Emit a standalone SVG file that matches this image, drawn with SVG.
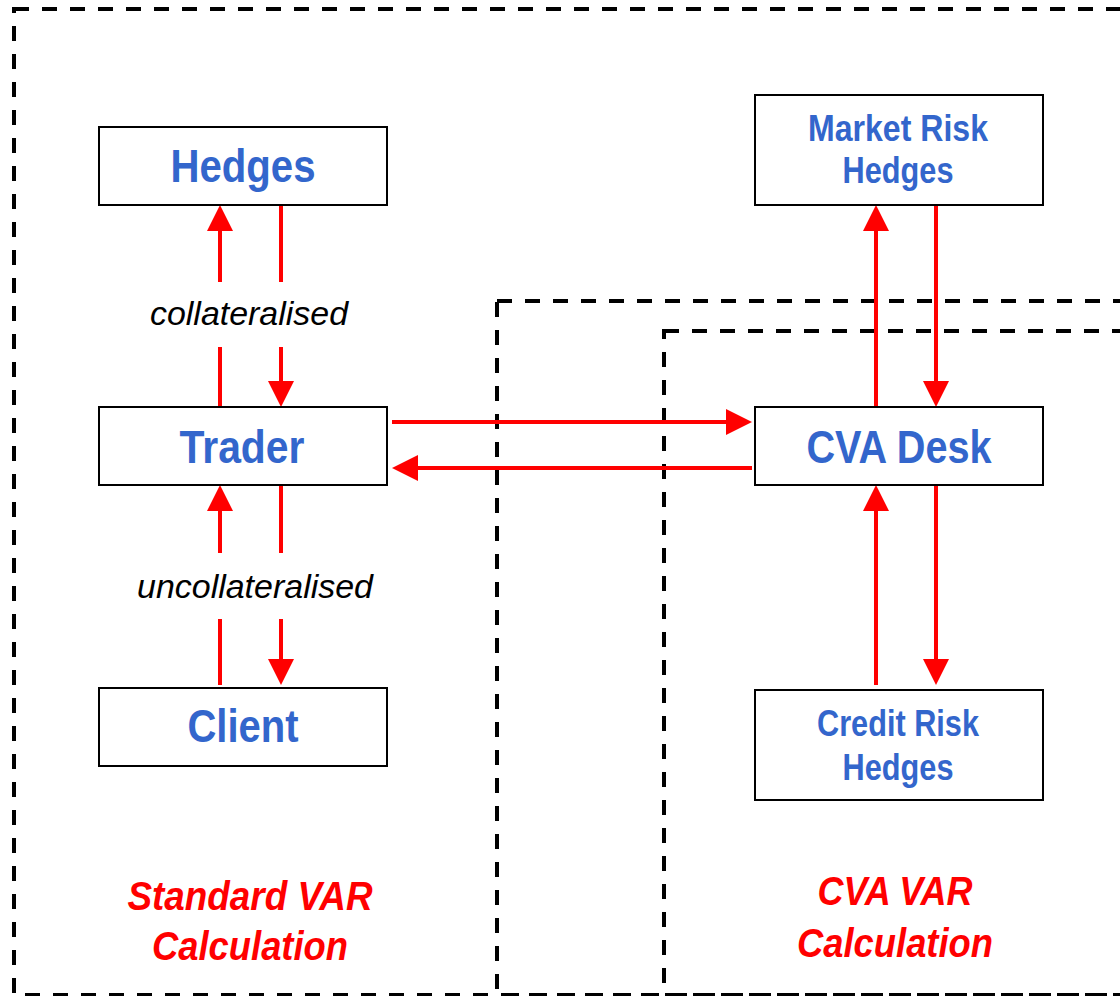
<svg xmlns="http://www.w3.org/2000/svg" width="1120" height="996" viewBox="0 0 1120 996">
<style>
.region{fill:none;stroke:#000;stroke-width:4;stroke-dasharray:15 13}
.box{fill:#fff;stroke:#000;stroke-width:2}
.nl{font-family:"Liberation Sans",Arial,sans-serif;font-weight:bold;fill:#3366CC;text-anchor:middle}
.big{font-size:46px}
.small{font-size:37px}
.lab{font-family:"Liberation Sans",Arial,sans-serif;font-style:italic;font-size:33px;fill:#000;text-anchor:middle}
.reg{font-family:"Liberation Sans",Arial,sans-serif;font-style:italic;font-weight:bold;font-size:40px;fill:#FF0000;text-anchor:middle}
.c{stroke:#FF0000;stroke-width:4;fill:none}
</style>
<defs>
<marker id="ah" markerUnits="userSpaceOnUse" markerWidth="26" markerHeight="26" refX="6" refY="13" orient="auto" viewBox="0 0 26 26">
<path d="M0,0 L26,13 L0,26 z" fill="#FF0000"/>
</marker>
</defs>
<rect width="1120" height="996" fill="#fff"/>
<g id="regions">
<rect class="region" x="14" y="9" width="1200" height="986"/>
<rect class="region" x="497" y="301" width="700" height="694"/>
<rect class="region" x="664" y="331" width="600" height="664"/>
<text class="reg" x="250" y="910" textLength="245" lengthAdjust="spacingAndGlyphs">Standard VAR</text>
<text class="reg" x="250" y="960" textLength="196" lengthAdjust="spacingAndGlyphs">Calculation</text>
<text class="reg" x="895" y="905" textLength="155" lengthAdjust="spacingAndGlyphs">CVA VAR</text>
<text class="reg" x="895" y="957" textLength="196" lengthAdjust="spacingAndGlyphs">Calculation</text>
</g>
<g id="connectors">
<line class="c" x1="220" y1="282" x2="220" y2="225" marker-end="url(#ah)"/>
<line class="c" x1="281" y1="205" x2="281" y2="282"/>
<line class="c" x1="220" y1="347" x2="220" y2="407"/>
<line class="c" x1="281" y1="347" x2="281" y2="387" marker-end="url(#ah)"/>
<line class="c" x1="220" y1="553" x2="220" y2="505" marker-end="url(#ah)"/>
<line class="c" x1="281" y1="485" x2="281" y2="553"/>
<line class="c" x1="220" y1="619" x2="220" y2="685"/>
<line class="c" x1="281" y1="619" x2="281" y2="665" marker-end="url(#ah)"/>
<line class="c" x1="392" y1="422" x2="732" y2="422" marker-end="url(#ah)"/>
<line class="c" x1="752" y1="468" x2="412" y2="468" marker-end="url(#ah)"/>
<line class="c" x1="876" y1="407" x2="876" y2="225" marker-end="url(#ah)"/>
<line class="c" x1="936" y1="205" x2="936" y2="387" marker-end="url(#ah)"/>
<line class="c" x1="876" y1="685" x2="876" y2="505" marker-end="url(#ah)"/>
<line class="c" x1="936" y1="485" x2="936" y2="665" marker-end="url(#ah)"/>
<text class="lab" x="249" y="325" textLength="198" lengthAdjust="spacingAndGlyphs">collateralised</text>
<text class="lab" x="255" y="598" textLength="236" lengthAdjust="spacingAndGlyphs">uncollateralised</text>
</g>
<g id="hedges">
<rect class="box" x="99" y="127" width="288" height="78"/>
<text class="nl big" x="243" y="182" textLength="145" lengthAdjust="spacingAndGlyphs">Hedges</text>
</g>
<g id="trader">
<rect class="box" x="99" y="407" width="288" height="78"/>
<text class="nl big" x="242" y="463" textLength="125" lengthAdjust="spacingAndGlyphs">Trader</text>
</g>
<g id="client">
<rect class="box" x="99" y="688" width="288" height="78"/>
<text class="nl big" x="243" y="742" textLength="111" lengthAdjust="spacingAndGlyphs">Client</text>
</g>
<g id="market-risk-hedges">
<rect class="box" x="755" y="95" width="288" height="110"/>
<text class="nl small" x="898" y="141" textLength="180" lengthAdjust="spacingAndGlyphs">Market Risk</text>
<text class="nl small" x="898" y="183" textLength="111" lengthAdjust="spacingAndGlyphs">Hedges</text>
</g>
<g id="cva-desk">
<rect class="box" x="755" y="407" width="288" height="78"/>
<text class="nl big" x="899" y="463" textLength="185" lengthAdjust="spacingAndGlyphs">CVA Desk</text>
</g>
<g id="credit-risk-hedges">
<rect class="box" x="755" y="690" width="288" height="110"/>
<text class="nl small" x="898" y="736" textLength="162" lengthAdjust="spacingAndGlyphs">Credit Risk</text>
<text class="nl small" x="898" y="780" textLength="111" lengthAdjust="spacingAndGlyphs">Hedges</text>
</g>
</svg>
